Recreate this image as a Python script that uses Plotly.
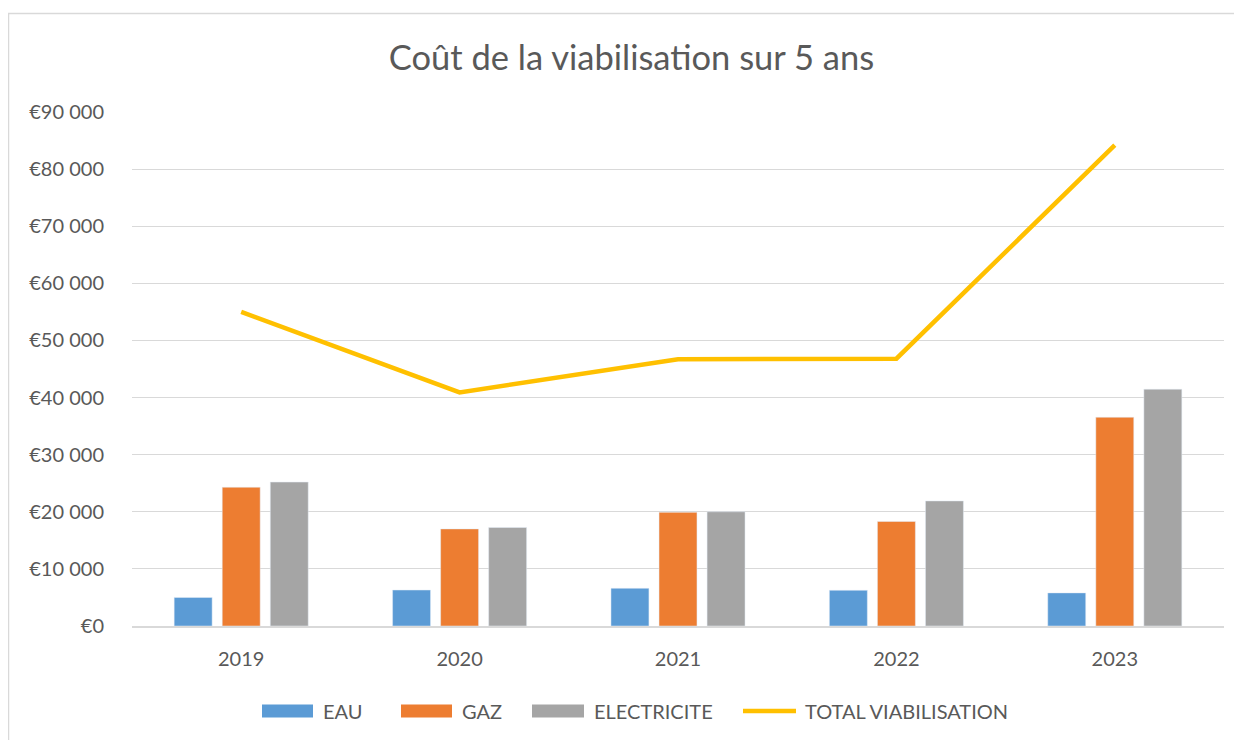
import plotly.graph_objects as go

years = ["2019", "2020", "2021", "2022", "2023"]
eau = [5000, 6300, 6600, 6250, 5800]
gaz = [24300, 17000, 19900, 18300, 36550]
elec = [25200, 17250, 20000, 21900, 41460]
total = [55000, 40900, 46700, 46800, 84200]

names = ["EAU", "GAZ", "ELECTRICITE", "TOTAL VIABILISATION"]
colors = ["#5B9BD5", "#ED7D31", "#A5A5A5", "#FFC000"]

FONT = "Lato"
TXT = "#595959"
GRID = "#d9d9d9"

# page is drawn with an 8px body offset
OFF = 8
W, H = 1242 - OFF, 740 - OFF
PL, PR, PT, PB = 132, 1224, 112, 626  # plot area in page pixels
L, R, T, B = PL - OFF, (W + OFF) - PR, PT - OFF, (H + OFF) - PB
pw, ph = PR - PL, PB - PT

def px2x(p):
    return (p - PL) / pw

def py2y(p):
    return (PB - p) / ph

fig = go.Figure()
fig.add_trace(go.Bar(x=years, y=eau, name=names[0], marker=dict(color=colors[0])))
fig.add_trace(go.Bar(x=years, y=gaz, name=names[1], marker=dict(color=colors[1])))
fig.add_trace(go.Bar(x=years, y=elec, name=names[2], marker=dict(color=colors[2])))
fig.add_trace(go.Scatter(x=years, y=total, name=names[3], mode="lines",
                         line=dict(color=colors[3], width=4.5)))

shapes = [dict(type="rect", xref="paper", yref="paper",
               x0=px2x(8.5), x1=px2x(1270), y0=py2y(13.5), y1=py2y(780),
               line=dict(color=GRID, width=1.5), fillcolor="rgba(0,0,0,0)", layer="below")]
annotations = []

# legend (custom, Excel-like swatches)
sw = [(262, 313), (401, 452), (532, 584), (741, 798)]
tx = [321, 459.5, 592, 802.5]
LY = 711
for i, nm in enumerate(names):
    a, b = sw[i]
    if i < 3:
        shapes.append(dict(type="rect", xref="paper", yref="paper",
                           x0=px2x(a), x1=px2x(b), y0=py2y(LY - 6.5), y1=py2y(LY + 6.5),
                           line=dict(width=0), fillcolor=colors[i]))
    else:
        shapes.append(dict(type="line", xref="paper", yref="paper",
                           x0=px2x(a + 2), x1=px2x(b - 2), y0=py2y(LY), y1=py2y(LY),
                           line=dict(color=colors[i], width=4.5)))
    annotations.append(dict(text=nm, xref="paper", yref="paper", x=px2x(tx[i]), y=py2y(LY),
                            xanchor="left", yanchor="middle", showarrow=False,
                            font=dict(family=FONT, size=20, color=TXT)))

fig.update_layout(
    width=W, height=H,
    margin=dict(l=L, r=R, t=T, b=B),
    paper_bgcolor="white", plot_bgcolor="white",
    font=dict(family=FONT, color=TXT, size=20),
    title=dict(text="Coût de la viabilisation sur 5 ans", x=(631.5 - OFF) / W, xref="container",
               xanchor="center", y=1 - (58 - OFF) / H, yanchor="middle", yref="container",
               font=dict(family=FONT, size=34.5, color=TXT)),
    barmode="group", bargap=0.34, bargroupgap=0.21,
    separators=", ",
    showlegend=False,
    shapes=shapes,
    annotations=annotations,
    xaxis=dict(showgrid=False, showline=True, linecolor=GRID, linewidth=1.5,
               ticks="", ticklabelstandoff=14, tickfont=dict(size=20, color=TXT)),
    yaxis=dict(range=[0, 90000], dtick=10000, tickformat=",.0f", tickprefix="€",
               showgrid=True, gridcolor=GRID, gridwidth=1, zeroline=False,
               showline=False, ticks="", ticklabelstandoff=27,
               tickfont=dict(size=20, color=TXT)),
)

fig.write_html("out.html")
